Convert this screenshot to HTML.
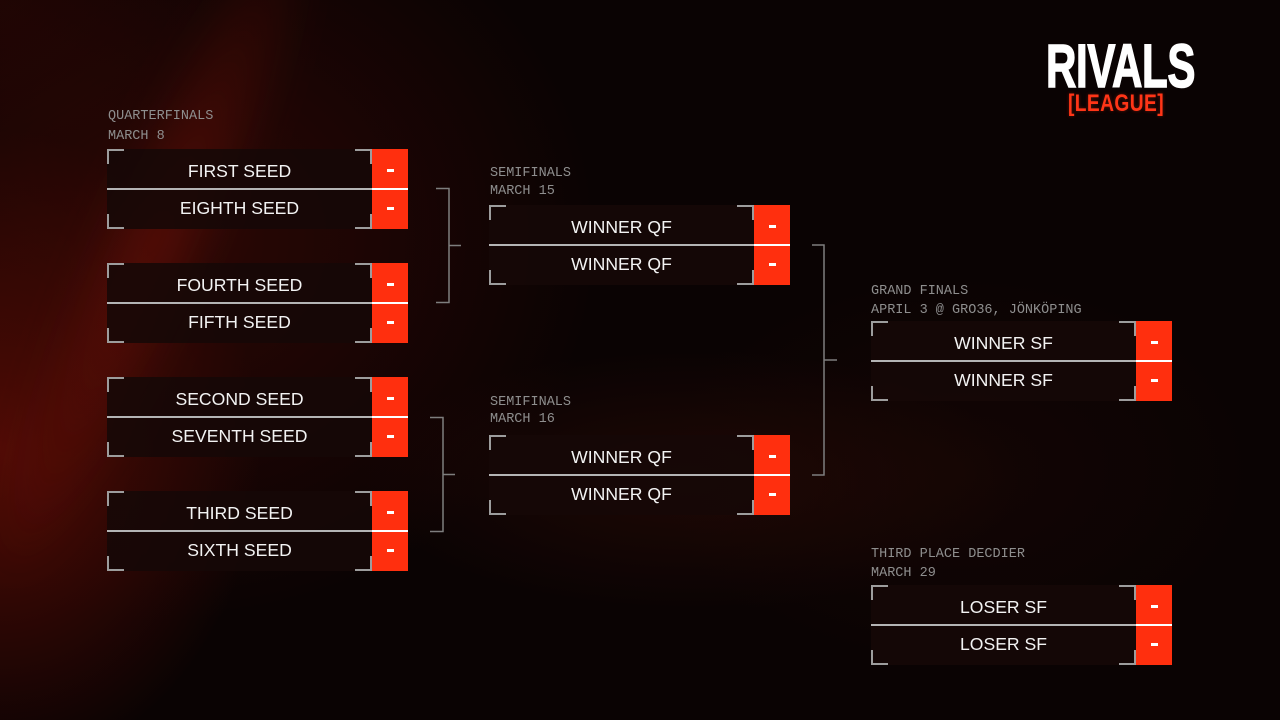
<!DOCTYPE html>
<html>
<head>
<meta charset="utf-8">
<style>
  html,body{margin:0;padding:0;}
  body{width:1280px;height:720px;overflow:hidden;position:relative;background:#0a0303;font-family:"Liberation Sans",sans-serif;}
  .layer{position:absolute;left:0;top:0;width:1280px;height:720px;}
  .bg1{background:
      radial-gradient(ellipse 430px 380px at 170px 240px, rgba(72,10,5,.55), rgba(72,10,5,0) 100%),
      radial-gradient(ellipse 260px 320px at 0px 450px, rgba(130,16,6,.6), rgba(130,16,6,0) 100%),
      radial-gradient(ellipse 330px 130px at 690px 480px, rgba(55,14,8,.45), rgba(55,14,8,0) 100%),
      radial-gradient(ellipse 300px 200px at 960px 470px, rgba(40,10,6,.3), rgba(40,10,6,0) 100%),
      radial-gradient(ellipse 200px 200px at 0px 0px, rgba(40,6,4,.5), rgba(40,6,4,0) 100%);}
  .streak{position:absolute;left:90px;top:-140px;width:130px;height:760px;transform:rotate(24deg);
      background:radial-gradient(ellipse at center, rgba(120,18,8,.5), rgba(120,18,8,0) 70%);filter:blur(18px);}
  .lbl{position:absolute;font-family:"Liberation Mono",monospace;font-size:13.5px;line-height:16px;color:#8e8e8e;white-space:nowrap;}
  .m{position:absolute;width:301px;height:80px;}
  .m .bg{position:absolute;left:0;top:0;width:265px;height:80px;background:rgba(22,8,7,.88);}
  .m .red{position:absolute;left:265px;top:0;width:36px;height:80px;background:#ff2f0e;}
  .m .r{position:absolute;left:0;width:265px;height:39px;line-height:41px;text-align:center;color:#f3f3f3;font-size:17.6px;white-space:nowrap;}
  .m .r1{top:2px;}
  .m .r2{top:39px;}
  .m .dv{position:absolute;left:0;top:39px;width:265px;height:2px;background:#b4b4b4;}
  .m .dvw{position:absolute;left:265px;top:39px;width:36px;height:2px;background:#ffffff;}
  .m .d{position:absolute;left:280px;width:7px;height:3px;background:#fff;}
  .m .d1{top:20px;}
  .m .d2{top:58px;}
  .m .c{position:absolute;width:17px;height:15px;border:0 solid #9d9d9d;box-sizing:border-box;}
  .m .tl{left:0;top:0;border-top-width:2px;border-left-width:2px;}
  .m .tr{left:248px;top:0;border-top-width:2px;border-right-width:2px;}
  .m .bl{left:0;top:65px;border-bottom-width:2px;border-left-width:2px;}
  .m .br{left:248px;top:65px;border-bottom-width:2px;border-right-width:2px;}
  .logo{position:absolute;left:1046px;top:36px;font-family:"Liberation Sans",sans-serif;font-weight:bold;font-size:61px;line-height:61px;color:#ffffff;transform:scaleX(0.69);transform-origin:0 0;white-space:nowrap;letter-spacing:-0.5px;-webkit-text-stroke:1.5px #ffffff;}
  .league{position:absolute;left:1068px;top:92px;font-family:"Liberation Sans",sans-serif;font-weight:bold;font-size:24px;line-height:24px;color:#ff3517;transform:scaleX(0.8);transform-origin:0 0;white-space:nowrap;letter-spacing:0.5px;text-shadow:0 0 4px rgba(255,50,20,.35);}
</style>
</head>
<body>
<div class="layer bg1"></div>
<div class="streak"></div>

<!-- Logo -->
<div class="logo">RIVALS</div>
<div class="league">[LEAGUE]</div>

<!-- Labels -->
<div class="lbl" style="left:108px;top:109px;">QUARTERFINALS</div>
<div class="lbl" style="left:108px;top:129px;">MARCH 8</div>

<div class="lbl" style="left:490px;top:166px;">SEMIFINALS</div>
<div class="lbl" style="left:490px;top:184px;">MARCH 15</div>

<div class="lbl" style="left:490px;top:395px;">SEMIFINALS</div>
<div class="lbl" style="left:490px;top:412px;">MARCH 16</div>

<div class="lbl" style="left:871px;top:284px;">GRAND FINALS</div>
<div class="lbl" style="left:871px;top:303px;">APRIL 3 @ GRO36, JÖNKÖPING</div>

<div class="lbl" style="left:871px;top:547px;">THIRD PLACE DECDIER</div>
<div class="lbl" style="left:871px;top:566px;">MARCH 29</div>

<!-- Quarterfinals -->
<div class="m" style="left:107px;top:149px;">
  <div class="bg"></div><div class="red"></div>
  <div class="r r1">FIRST SEED</div><div class="r r2">EIGHTH SEED</div>
  <div class="dv"></div><div class="dvw"></div>
  <div class="d d1"></div><div class="d d2"></div>
  <div class="c tl"></div><div class="c tr"></div><div class="c bl"></div><div class="c br"></div>
</div>
<div class="m" style="left:107px;top:263px;">
  <div class="bg"></div><div class="red"></div>
  <div class="r r1">FOURTH SEED</div><div class="r r2">FIFTH SEED</div>
  <div class="dv"></div><div class="dvw"></div>
  <div class="d d1"></div><div class="d d2"></div>
  <div class="c tl"></div><div class="c tr"></div><div class="c bl"></div><div class="c br"></div>
</div>
<div class="m" style="left:107px;top:377px;">
  <div class="bg"></div><div class="red"></div>
  <div class="r r1">SECOND SEED</div><div class="r r2">SEVENTH SEED</div>
  <div class="dv"></div><div class="dvw"></div>
  <div class="d d1"></div><div class="d d2"></div>
  <div class="c tl"></div><div class="c tr"></div><div class="c bl"></div><div class="c br"></div>
</div>
<div class="m" style="left:107px;top:491px;">
  <div class="bg"></div><div class="red"></div>
  <div class="r r1">THIRD SEED</div><div class="r r2">SIXTH SEED</div>
  <div class="dv"></div><div class="dvw"></div>
  <div class="d d1"></div><div class="d d2"></div>
  <div class="c tl"></div><div class="c tr"></div><div class="c bl"></div><div class="c br"></div>
</div>

<!-- Semifinals -->
<div class="m" style="left:489px;top:205px;">
  <div class="bg"></div><div class="red"></div>
  <div class="r r1">WINNER QF</div><div class="r r2">WINNER QF</div>
  <div class="dv"></div><div class="dvw"></div>
  <div class="d d1"></div><div class="d d2"></div>
  <div class="c tl"></div><div class="c tr"></div><div class="c bl"></div><div class="c br"></div>
</div>
<div class="m" style="left:489px;top:435px;">
  <div class="bg"></div><div class="red"></div>
  <div class="r r1">WINNER QF</div><div class="r r2">WINNER QF</div>
  <div class="dv"></div><div class="dvw"></div>
  <div class="d d1"></div><div class="d d2"></div>
  <div class="c tl"></div><div class="c tr"></div><div class="c bl"></div><div class="c br"></div>
</div>

<!-- Grand Finals -->
<div class="m" style="left:871px;top:321px;">
  <div class="bg"></div><div class="red"></div>
  <div class="r r1">WINNER SF</div><div class="r r2">WINNER SF</div>
  <div class="dv"></div><div class="dvw"></div>
  <div class="d d1"></div><div class="d d2"></div>
  <div class="c tl"></div><div class="c tr"></div><div class="c bl"></div><div class="c br"></div>
</div>

<!-- Third place -->
<div class="m" style="left:871px;top:585px;">
  <div class="bg"></div><div class="red"></div>
  <div class="r r1">LOSER SF</div><div class="r r2">LOSER SF</div>
  <div class="dv"></div><div class="dvw"></div>
  <div class="d d1"></div><div class="d d2"></div>
  <div class="c tl"></div><div class="c tr"></div><div class="c bl"></div><div class="c br"></div>
</div>

<!-- Connectors -->
<svg class="layer" width="1280" height="720" viewBox="0 0 1280 720" style="pointer-events:none;">
  <g fill="none" stroke="#7e7e7e" stroke-width="1.5">
    <polyline points="436,188.5 449,188.5 449,302.5 436,302.5"/>
    <line x1="449" y1="245.5" x2="461" y2="245.5"/>
    <polyline points="430,417.5 443,417.5 443,531.5 430,531.5"/>
    <line x1="443" y1="474.5" x2="455" y2="474.5"/>
    <polyline points="812,245 824,245 824,475 812,475"/>
    <line x1="824" y1="360" x2="837" y2="360"/>
  </g>
</svg>
</body>
</html>
